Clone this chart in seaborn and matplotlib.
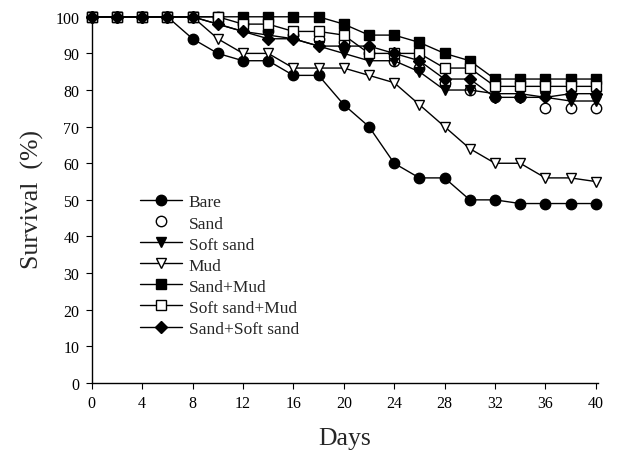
import numpy as np
import pandas as pd
import matplotlib
matplotlib.use('Agg')
import matplotlib.pyplot as plt
import seaborn as sns

# Survival (%), one point every 2 days
days = list(range(0, 41, 2))
bare = [100, 100, 100, 100, 94, 90, 88, 88, 84, 84, 76, 70, 60, 56, 56, 50, 50, 49, 49, 49, 49]
sand = [100, 100, 100, 100, 100, 100, 98, 96, 95, 94, 93, 90, 88, 86, 82, 80, 78, 78, 75, 75, 75]
soft_sand = [100, 100, 100, 100, 100, 98, 96, 95, 94, 92, 90, 88, 88, 85, 80, 80, 79, 79, 78, 77, 77]
mud = [100, 100, 100, 100, 100, 94, 90, 90, 86, 86, 86, 84, 82, 76, 70, 64, 60, 60, 56, 56, 55]
sand_mud = [100, 100, 100, 100, 100, 100, 100, 100, 100, 100, 98, 95, 95, 93, 90, 88, 83, 83, 83, 83, 83]
soft_sand_mud = [100, 100, 100, 100, 100, 100, 98, 98, 96, 96, 95, 90, 90, 90, 86, 86, 81, 81, 81, 81, 81]
sand_soft_sand = [100, 100, 100, 100, 100, 98, 96, 94, 94, 92, 92, 92, 90, 88, 83, 83, 78, 78, 78, 79, 79]

series = [
    ('Bare', bare, 'o', 'black', '-'),
    ('Sand', sand, 'o', 'white', ''),
    ('Soft sand', soft_sand, 'v', 'black', '-'),
    ('Mud', mud, 'v', 'white', '-'),
    ('Sand+Mud', sand_mud, 's', 'black', '-'),
    ('Soft sand+Mud', soft_sand_mud, 's', 'white', '-'),
    ('Sand+Soft sand', sand_soft_sand, 'D', 'black', '-'),
]

sns.set_style('ticks')
plt.rcParams['font.family'] = ['Liberation Serif', 'DejaVu Serif']

fig = plt.figure(figsize=(6.2, 4.56), dpi=100)
ax = fig.add_axes([0.148, 0.158, 0.817, 0.807])

for name, vals, mk, fill, ls in series:
    ms = 6 if mk == 'D' else 7.5
    sns.lineplot(x=days, y=vals, ax=ax, color='black', linestyle=ls, linewidth=1,
                 marker=mk, markersize=ms, markerfacecolor=fill,
                 markeredgecolor='black', markeredgewidth=1,
                 label=name, clip_on=False)

ax.set_xlim(0, 40.2)
ax.set_ylim(0, 100.5)
ax.set_xticks(range(0, 41, 4))
ax.set_yticks(range(0, 101, 10))
ax.tick_params(direction='out', length=4, width=0.8, labelsize=11.5, colors='black', pad=5)
sns.despine(ax=ax)
for s in ['left', 'bottom']:
    ax.spines[s].set_linewidth(1)
    ax.spines[s].set_color('black')

ax.set_xlabel('Days', fontsize=18.5, labelpad=11)
ax.set_ylabel('Survival  (%)', fontsize=18.5, labelpad=8)

ax.legend(loc='upper left', bbox_to_anchor=(0.065, 0.555), frameon=False,
          fontsize=12.5, handlelength=2.4, labelspacing=0.28, handletextpad=0.4)

fig.savefig('out.png', dpi=100)
